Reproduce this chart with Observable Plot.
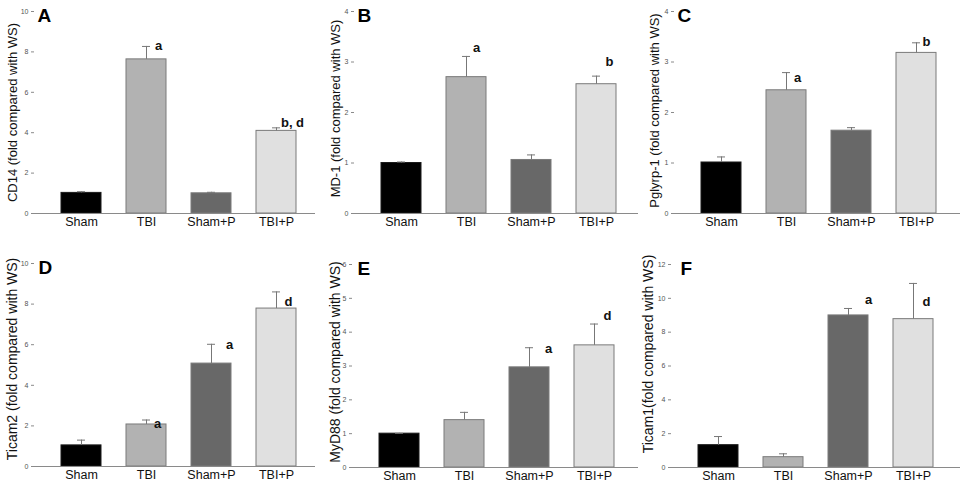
<!DOCTYPE html>
<html><head><meta charset="utf-8">
<script src="https://cdn.jsdelivr.net/npm/d3@7"></script>
<script src="https://cdn.jsdelivr.net/npm/@observablehq/plot@0.6"></script>
<style>
body{margin:0;background:#fff;}
#wrap{position:relative;width:962px;height:490px;background:#fff;overflow:hidden;}
.panel{position:absolute;}
.panel svg{overflow:visible;}
</style></head><body><div id="wrap"></div>
<script>
const groups = ["Sham", "TBI", "Sham+P", "TBI+P"];
const groupColors = ["#000000", "#b2b2b2", "#686868", "#e0e0e0"];
const panelLetters = ["A", "B", "C", "D", "E", "F"];
const yLabels = ["CD14 (fold compared with WS)", "MD-1 (fold compared with WS)", "Pglyrp-1 (fold compared with WS)",
                 "Ticam2 (fold compared with WS)", "MyD88 (fold compared with WS)", "Ticam1(fold compared with WS)"];
const yMax = [10, 4, 4, 10, 6, 12];
const yTicks = [[0,2,4,6,8,10],[0,1,2,3,4],[0,1,2,3,4],[0,2,4,6,8,10],[0,1,2,3,4,5,6],[0,2,4,6,8,10,12]];

// bar means and upper error-bar ends
const meanA = [1.02, 7.63, 1.00, 4.09];  const errA = [1.08, 8.27, 1.05, 4.24];
const meanB = [1.00, 2.70, 1.06, 2.56];  const errB = [1.02, 3.11, 1.16, 2.72];
const meanC = [1.01, 2.44, 1.64, 3.18];  const errC = [1.12, 2.79, 1.70, 3.38];
const meanD = [1.04, 2.07, 5.07, 7.78];  const errD = [1.30, 2.29, 6.02, 8.60];
const meanE = [1.00, 1.40, 2.96, 3.61];  const errE = [1.01, 1.63, 3.54, 4.24];
const meanF = [1.32, 0.61, 8.99, 8.77];  const errF = [1.83, 0.81, 9.40, 10.88];

// significance letters and their heights (data units)
const sigA = ["", "a", "", "b, d"];   const sigYA = [null, 8.30, null, 4.48];
const sigB = ["", "a", "", "b"];      const sigYB = [null, 3.28, null, 3.00];
const sigC = ["", "a", "", "b"];      const sigYC = [null, 2.68, null, 3.39];
const sigD = ["", "a", "a", "d"];     const sigYD = [null, 2.10, 6.00, 8.10];
const sigE = ["", "", "a", "d"];      const sigYE = [null, null, 3.52, 4.48];
const sigF = ["", "", "a", "d"];      const sigYF = [null, null, 9.90, 9.80];

const means = [meanA, meanB, meanC, meanD, meanE, meanF];
const errs = [errA, errB, errC, errD, errE, errF];
const sigs = [sigA, sigB, sigC, sigD, sigE, sigF];
const sigYs = [sigYA, sigYB, sigYC, sigYD, sigYE, sigYF];

// layout (style only)
const layout = [
  {left:0,   top:0,   w:320, h:245, ml:34, mt:11, mb:32, mr:5, ldx:22, ldy:0,   lfs:13, pdx:3, sdx:[0,12,0,16]},
  {left:320, top:0,   w:320, h:245, ml:34, mt:11, mb:32, mr:2, ldx:19, ldy:-4,  lfs:13, pdx:3, sdx:[0,10,0,13]},
  {left:640, top:0,   w:322, h:245, ml:34, mt:11, mb:32, mr:2, ldx:20, ldy:-2,  lfs:13, pdx:3, sdx:[0,11,0,10]},
  {left:0,   top:245, w:320, h:245, ml:34, mt:18, mb:24, mr:5, ldx:22, ldy:-6,  lfs:14, pdx:4, sdx:[0,11,18,12]},
  {left:320, top:245, w:320, h:245, ml:32, mt:19, mb:23, mr:2, ldx:17, ldy:-4,  lfs:14, pdx:5, sdx:[0,0,19,13]},
  {left:640, top:245, w:322, h:245, ml:31, mt:19, mb:23, mr:2, ldx:23, ldy:-12, lfs:14, pdx:9, sdx:[0,0,20,13]}
];

const FONT = '"Liberation Sans", Arial, sans-serif';
const wrap = document.getElementById("wrap");

for (let i = 0; i < 6; i++) {
  const lay = layout[i];
  const rows = groups.map((g, j) => ({group: g, mean: means[i][j], err: errs[i][j], color: groupColors[j],
                                      edge: j === 0 ? "#1a1a1a" : "#7a7a7a"}));
  const noteMarks = groups.map((g, j) => sigs[i][j] ? Plot.text([{group: g, y: sigYs[i][j], t: sigs[i][j]}], {
      x: "group", y: "y", text: "t", dx: lay.sdx[j], fontSize: 13, fontWeight: "bold",
      fill: "#111", textAnchor: "middle", lineAnchor: "middle"}) : null).filter(Boolean);
  const chart = Plot.plot({
    width: lay.w, height: lay.h,
    marginLeft: lay.ml, marginTop: lay.mt, marginBottom: lay.mb, marginRight: lay.mr,
    style: {fontFamily: FONT, background: "transparent", overflow: "visible"},
    x: {domain: groups, range: [lay.ml, lay.ml + 281], paddingInner: 0.39, paddingOuter: 0.35, align: 0.574},
    y: {domain: [0, yMax[i]]},
    color: {type: "identity"},
    marks: [
      Plot.barY(rows, {x: "group", y: "mean", fill: "color", stroke: "edge", strokeWidth: 1}),
      Plot.ruleX(rows, {x: "group", y1: "mean", y2: "err", stroke: "#777", strokeWidth: 1}),
      Plot.tickY(rows, {x: "group", y: "err", stroke: "#777", strokeWidth: 1, insetLeft: 16, insetRight: 16}),
      Plot.ruleY([0], {stroke: "#8a8a8a", strokeWidth: 1}),
      Plot.axisY({ticks: yTicks[i], tickSize: 3, tickPadding: 3, fontSize: 7, stroke: "#8a8a8a", fill: "#555",
                  line: true, label: null, tickFormat: d => String(d)}),
      Plot.axisX({tickSize: 0, tickPadding: 4, fontSize: 12.5, fill: "#111", label: null}),
      Plot.text([yLabels[i]], {text: d => d, frameAnchor: "left", rotate: -90, dx: -lay.ldx, dy: lay.ldy,
                              fontSize: lay.lfs, fill: "#111", textAnchor: "middle", lineAnchor: "middle"}),
      Plot.text([panelLetters[i]], {text: d => d, frameAnchor: "top-left", textAnchor: "start", lineAnchor: "top",
                                    dx: lay.pdx, dy: -3, fontSize: 19, fontWeight: "bold", fill: "#000"}),
      ...noteMarks
    ]
  });
  const div = document.createElement("div");
  div.className = "panel";
  div.style.left = lay.left + "px";
  div.style.top = lay.top + "px";
  div.appendChild(chart);
  wrap.appendChild(div);
}
</script></body></html>
